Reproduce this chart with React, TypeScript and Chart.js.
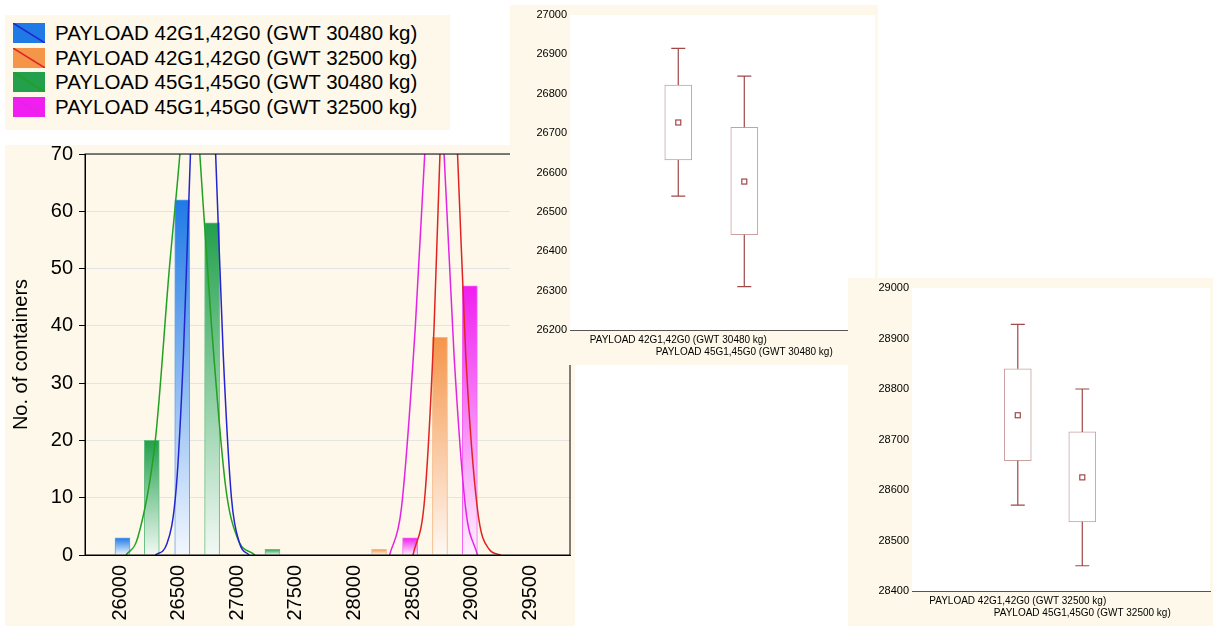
import React, { useEffect, useRef } from "react";
import { Chart, registerables } from "chart.js";
Chart.register(...registerables);

const legendLabels = [
  "PAYLOAD 42G1,42G0 (GWT 30480 kg)",
  "PAYLOAD 42G1,42G0 (GWT 32500 kg)",
  "PAYLOAD 45G1,45G0 (GWT 30480 kg)",
  "PAYLOAD 45G1,45G0 (GWT 32500 kg)",
];
const barColors = ["#1f7ae6", "#f5954a", "#22a04c", "#f01ef0"];
const curveColors = ["#2424d0", "#e02424", "#22a022", "#e424e4"];

const xTicks = [26000, 26500, 27000, 27500, 28000, 28500, 29000, 29500];
const yTicks = [0, 10, 20, 30, 40, 50, 60, 70];

const bars42_30480 = [{ x: 26020, y: 3 }, { x: 26530, y: 62 }];
const bars42_32500 = [{ x: 28210, y: 1 }, { x: 28730, y: 38 }];
const bars45_30480 = [{ x: 26270, y: 20 }, { x: 26785, y: 58 }, { x: 27300, y: 1 }];
const bars45_32500 = [{ x: 28475, y: 3 }, { x: 28985, y: 47 }];

const curve42_30480 = [[26300,0],[26400,2],[26480,12],[26540,35],[26600,70],[26650,95],[26700,105],[26760,95],[26815,70],[26880,35],[26950,10],[27020,2],[27100,0]];
const curve42_32500 = [[28500,0],[28600,10],[28680,40],[28730,70],[28800,100],[28880,70],[28950,35],[29050,8],[29150,1],[29250,0]];
const curve45_30480 = [[26050,0],[26150,3],[26300,20],[26420,50],[26510,70],[26600,95],[26680,70],[26780,40],[26900,12],[27000,3],[27150,0]];
const curve45_32500 = [[28300,0],[28400,8],[28520,40],[28600,70],[28680,95],[28765,70],[28850,35],[28950,8],[29050,0]];

const boxLabels30480 = ["PAYLOAD 42G1,42G0 (GWT 30480 kg)", "PAYLOAD 45G1,45G0 (GWT 30480 kg)"];
const box30480 = [
  { min: 26540, q1: 26632, mean: 26727, q3: 26822, max: 26915 },
  { min: 26310, q1: 26442, mean: 26577, q3: 26715, max: 26845 },
];
const boxLabels32500 = ["PAYLOAD 42G1,42G0 (GWT 32500 kg)", "PAYLOAD 45G1,45G0 (GWT 32500 kg)"];
const box32500 = [
  { min: 28570, q1: 28658, mean: 28748, q3: 28840, max: 28928 },
  { min: 28450, q1: 28537, mean: 28625, q3: 28715, max: 28800 },
];

function pale(hex: string, a: number) {
  const n = parseInt(hex.slice(1), 16);
  const r = n >> 16, g = (n >> 8) & 255, b = n & 255;
  const m = (c: number) => Math.round(c * a + 255 * (1 - a));
  return `rgb(${m(r)},${m(g)},${m(b)})`;
}

function Histogram() {
  const ref = useRef<HTMLCanvasElement>(null);
  useEffect(() => {
    const barSets = [bars42_30480, bars42_32500, bars45_30480, bars45_32500];
    const curves = [curve42_30480, curve42_32500, curve45_30480, curve45_32500];
    const grad = (i: number) => (c: any) => {
      const chart = c.chart;
      const ca = chart.chartArea;
      if (!ca || !c.raw) return barColors[i];
      const y = chart.scales.y;
      const top = y.getPixelForValue(c.raw.y);
      const bot = y.getPixelForValue(0);
      const g = chart.ctx.createLinearGradient(0, top, 0, bot + 0.01);
      g.addColorStop(0, barColors[i]);
      g.addColorStop(1, pale(barColors[i], 0.06));
      return g;
    };
    const datasets: any[] = [];
    barSets.forEach((d, i) =>
      datasets.push({ type: "bar", data: d, backgroundColor: grad(i), borderColor: pale(barColors[i], 0.7), borderWidth: 1, barThickness: 15, grouped: false, order: 2 })
    );
    curves.forEach((d, i) =>
      datasets.push({ type: "line", data: d.map(([x, y]) => ({ x, y })), borderColor: curveColors[i], borderWidth: 1.5, pointRadius: 0, cubicInterpolationMode: "monotone", fill: false, order: 1 })
    );
    const chart = new Chart(ref.current!, {
      type: "bar",
      data: { datasets },
      options: {
        animation: false, responsive: false, maintainAspectRatio: false,
        layout: { padding: { top: 0, right: 5 } },
        plugins: { legend: { display: false }, tooltip: { enabled: false } },
        scales: {
          x: {
            type: "linear", min: 25700, max: 29840, offset: false,
            afterBuildTicks: (s: any) => { s.ticks = xTicks.map((v) => ({ value: v })); },
            afterFit: (s: any) => { s.height = 71; },
            ticks: { minRotation: 90, maxRotation: 90, color: "#000", font: { family: "Arial, Liberation Sans", size: 20 }, padding: 4, callback: (v: any) => String(v) },
            grid: { display: false, drawTicks: true, tickLength: 6, tickColor: "#000" },
            border: { color: "#000" },
          },
          y: {
            min: 0, max: 70,
            afterBuildTicks: (s: any) => { s.ticks = yTicks.map((v) => ({ value: v })); },
            afterFit: (s: any) => { s.width = 80; },
            ticks: { color: "#000", font: { family: "Arial, Liberation Sans", size: 20 }, padding: 6, callback: (v: any) => String(v) },
            grid: { color: "#e4e4e4", tickLength: 6, tickColor: "#000" },
            border: { color: "#000" },
            title: { display: true, text: "No. of containers", color: "#000", font: { family: "Arial, Liberation Sans", size: 20 } },
          },
        },
      },
      plugins: [{
        id: "frame",
        afterDraw(c: any) {
          const { left, right, top, bottom } = c.chartArea;
          const ctx = c.ctx; ctx.save(); ctx.strokeStyle = "#000"; ctx.lineWidth = 1;
          ctx.strokeRect(left, top, right - left, bottom - top); ctx.restore();
        },
      }],
    } as any);
    return () => chart.destroy();
  }, []);
  return <canvas ref={ref} width={570} height={490} style={{ display: "block", marginTop: -9 }} />;
}

function BoxPlot({ data, labels, yMin, yMax, w, h, axisW }: any) {
  const ref = useRef<HTMLCanvasElement>(null);
  useEffect(() => {
    const pos = [1, 2];
    const chart = new Chart(ref.current!, {
      type: "bar",
      data: {
        datasets: [{
          data: data.map((d: any, i: number) => ({ x: pos[i], y: [d.q1, d.q3] })),
          backgroundColor: "#fff", borderColor: "#c8a0a0", borderWidth: 1, borderSkipped: false, barThickness: 27,
        }],
      },
      options: {
        animation: false, responsive: false, maintainAspectRatio: false,
        layout: { padding: { top: 10, right: 3, bottom: 32 } },
        plugins: { legend: { display: false }, tooltip: { enabled: false } },
        scales: {
          x: {
            type: "linear", min: -0.64, max: 3.98, offset: false,
            afterBuildTicks: (s: any) => { s.ticks = [0, 1, 2, 3].map((v) => ({ value: v })); },
            ticks: { display: false },
            grid: { display: false, drawTicks: true, tickLength: 3, tickColor: "#555" },
            border: { color: "#555" },
          },
          y: {
            min: yMin, max: yMax,
            afterFit: (s: any) => { s.width = axisW; },
            ticks: { stepSize: 100, color: "#000", font: { family: "Arial, Liberation Sans", size: 11 }, callback: (v: any) => String(v) },
            grid: { color: "#ececec", drawTicks: false },
            border: { display: false },
          },
        },
      },
      plugins: [{
        id: "box",
        beforeDatasetsDraw(c: any) {
          const { left, right, top, bottom } = c.chartArea;
          c.ctx.save(); c.ctx.fillStyle = "#fff"; c.ctx.fillRect(left, top, right - left, bottom - top); c.ctx.restore();
        },
        afterDatasetsDraw(c: any) {
          const ctx = c.ctx, xs = c.scales.x, ys = c.scales.y;
          ctx.save();
          data.forEach((d: any, i: number) => {
            const x = xs.getPixelForValue(pos[i]);
            ctx.strokeStyle = "#a04848"; ctx.lineWidth = 1.2;
            ctx.beginPath();
            ctx.moveTo(x, ys.getPixelForValue(d.max)); ctx.lineTo(x, ys.getPixelForValue(d.q3));
            ctx.moveTo(x, ys.getPixelForValue(d.q1)); ctx.lineTo(x, ys.getPixelForValue(d.min));
            [d.max, d.min].forEach((v) => { const y = ys.getPixelForValue(v); ctx.moveTo(x - 7, y); ctx.lineTo(x + 7, y); });
            ctx.stroke();
            const my = ys.getPixelForValue(d.mean);
            ctx.strokeRect(x - 2.5, my - 2.5, 5, 5);
            ctx.fillStyle = "#000"; ctx.font = "10px Arial, Liberation Sans"; ctx.textAlign = "center"; ctx.textBaseline = "top";
            ctx.fillText(labels[i], x, c.chartArea.bottom + 5 + i * 12);
          });
          ctx.restore();
        },
      }],
    } as any);
    return () => chart.destroy();
  }, []);
  return <canvas ref={ref} width={w} height={h} style={{ display: "block" }} />;
}

function Swatch({ color }: { color: string }) {
  return (
    <svg width="32" height="20" style={{ marginRight: 10 }}>
      <rect x="0" y="0" width="32" height="20" fill={color} />
      <line x1="0" y1="0" x2="32" y2="20" stroke={curveColors[barColors.indexOf(color)]} strokeWidth="1.5" />
    </svg>
  );
}

export default function App() {
  useEffect(() => { document.body.style.margin = "0"; }, []);
  const bg = "#fdf8e9";
  return (
    <div style={{ position: "relative", width: 1213, height: 626, background: "#fff", fontFamily: "Arial, Liberation Sans" }}>
      <div style={{ position: "absolute", left: 5, top: 15, width: 445, height: 115, background: bg, paddingTop: 6, paddingLeft: 8, boxSizing: "border-box" }}>
        {legendLabels.map((l, i) => (
          <div key={i} style={{ display: "flex", alignItems: "center", height: 24.5, fontSize: 20.5 }}>
            <Swatch color={barColors[i]} />{l}
          </div>
        ))}
      </div>
      <div style={{ position: "absolute", left: 5, top: 145, width: 570, height: 481, background: bg, overflow: "hidden" }}>
        <Histogram />
      </div>
      <div style={{ position: "absolute", left: 510, top: 5, width: 368, height: 360, background: bg }}>
        <BoxPlot data={box30480} labels={boxLabels30480} yMin={26200} yMax={27000} w={368} h={360} axisW={60} />
      </div>
      <div style={{ position: "absolute", left: 848, top: 278, width: 365, height: 348, background: bg }}>
        <BoxPlot data={box32500} labels={boxLabels32500} yMin={28400} yMax={29000} w={365} h={348} axisW={64} />
      </div>
    </div>
  );
}
